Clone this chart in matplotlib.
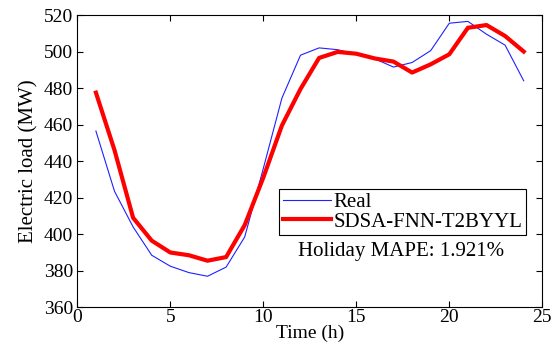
import matplotlib
matplotlib.use("Agg")
import matplotlib.pyplot as plt
import numpy as np

hours = np.arange(1, 25)
real_load = [456.5, 423.5, 404.0, 388.5, 382.5, 379.0, 377.0, 382.0, 398.5, 436.0,
             474.5, 498.0, 502.0, 501.0, 498.5, 496.0, 491.5, 494.0, 500.5, 515.5,
             516.5, 509.5, 503.5, 484.0]
pred_load = [477.5, 446.0, 409.0, 396.5, 390.0, 388.5, 385.5, 387.5, 405.0, 431.0,
             459.5, 479.5, 496.5, 499.8, 498.8, 496.2, 494.5, 488.5, 493.0, 498.5,
             513.0, 514.5, 508.5, 500.0]

plt.rcParams["font.family"] = ["Liberation Serif", "DejaVu Serif"]
plt.rcParams["font.size"] = 14

fig = plt.figure(figsize=(5.57, 3.58), dpi=100)
ax = fig.add_axes([0.1388, 0.1416, 0.8348, 0.8165])

ax.plot(hours, real_load, color="#2020ff", linewidth=0.8, label="Real")
ax.plot(hours, pred_load, color="red", linewidth=3.0, label="SDSA-FNN-T2BYYL")

ax.set_xlim(0, 25)
ax.set_ylim(360, 520)
ax.set_xticks(np.arange(0, 26, 5))
ax.set_yticks(np.arange(360, 521, 20))
ax.tick_params(direction="in", top=True, right=True, length=4)
ax.tick_params(axis="x", pad=1.5)
ax.tick_params(axis="y", pad=3)
ax.set_xlabel("Time (h)", fontsize=14, labelpad=-1)
ax.set_ylabel("Electric load (MW)", fontsize=15, labelpad=4)

leg = ax.legend(loc="upper left", bbox_to_anchor=(0.434, 0.405), fancybox=False,
                edgecolor="black", framealpha=1, fontsize=15, handlelength=2.3,
                borderpad=0.17, labelspacing=0.0, handletextpad=0.15,
                borderaxespad=0)
leg.get_frame().set_linewidth(0.8)

ax.text(0.475, 0.19, "Holiday MAPE: 1.921%", transform=ax.transAxes,
        ha="left", va="center", fontsize=15)

fig.savefig("out.png", dpi=100)
